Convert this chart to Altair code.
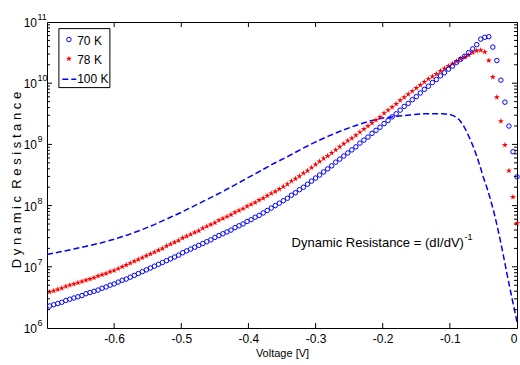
import altair as alt
import pandas as pd

# ---------------- data ----------------
voltage = [-0.696, -0.690, -0.684, -0.678, -0.672, -0.666, -0.660, -0.654, -0.648, -0.642,
           -0.636, -0.630, -0.624, -0.618, -0.612, -0.606, -0.600, -0.594, -0.588, -0.582,
           -0.576, -0.570, -0.564, -0.558, -0.552, -0.546, -0.540, -0.534, -0.528, -0.522,
           -0.516, -0.510, -0.504, -0.498, -0.492, -0.486, -0.480, -0.474, -0.468, -0.462,
           -0.456, -0.450, -0.444, -0.438, -0.432, -0.426, -0.420, -0.414, -0.408, -0.402,
           -0.396, -0.390, -0.384, -0.378, -0.372, -0.366, -0.360, -0.354, -0.348, -0.342,
           -0.336, -0.330, -0.324, -0.318, -0.312, -0.306, -0.300, -0.294, -0.288, -0.282,
           -0.276, -0.270, -0.264, -0.258, -0.252, -0.246, -0.240, -0.234, -0.228, -0.222,
           -0.216, -0.210, -0.204, -0.198, -0.192, -0.186, -0.180, -0.174, -0.168, -0.162,
           -0.156, -0.150, -0.144, -0.138, -0.132, -0.126, -0.120, -0.114, -0.108, -0.102,
           -0.096, -0.090, -0.084, -0.078, -0.072, -0.066, -0.060, -0.054, -0.048, -0.042,
           -0.036, -0.030, -0.024, -0.018, -0.012, -0.006, 0.000]

# log10 of dynamic resistance, 70 K (blue circles)
r70_log10 = [6.36, 6.38, 6.40, 6.42, 6.45, 6.47, 6.49, 6.51, 6.53, 6.56,
             6.58, 6.60, 6.62, 6.65, 6.67, 6.70, 6.72, 6.75, 6.78, 6.80,
             6.83, 6.86, 6.89, 6.92, 6.95, 6.98, 7.01, 7.04, 7.07, 7.10,
             7.13, 7.16, 7.19, 7.23, 7.26, 7.29, 7.32, 7.35, 7.38, 7.41,
             7.44, 7.48, 7.51, 7.54, 7.57, 7.60, 7.64, 7.67, 7.70, 7.74,
             7.77, 7.81, 7.84, 7.88, 7.92, 7.96, 8.00, 8.04, 8.08, 8.12,
             8.17, 8.21, 8.26, 8.30, 8.35, 8.40, 8.45, 8.50, 8.55, 8.60,
             8.65, 8.71, 8.76, 8.81, 8.86, 8.91, 8.96, 9.02, 9.07, 9.12,
             9.18, 9.23, 9.28, 9.34, 9.39, 9.45, 9.50, 9.56, 9.62, 9.67,
             9.73, 9.78, 9.84, 9.90, 9.95, 10.01, 10.06, 10.12, 10.17, 10.23,
             10.28, 10.34, 10.39, 10.44, 10.50, 10.56, 10.63, 10.72, 10.75, 10.76,
             10.59, 10.37, 10.05, 9.69, 9.30, 8.88, 8.47]

# log10 of dynamic resistance, 78 K (red stars)
r78_log10 = [6.59, 6.61, 6.63, 6.65, 6.68, 6.70, 6.72, 6.74, 6.76, 6.78,
             6.80, 6.82, 6.85, 6.87, 6.89, 6.92, 6.94, 6.97, 7.00, 7.03,
             7.06, 7.09, 7.12, 7.15, 7.18, 7.21, 7.24, 7.27, 7.30, 7.34,
             7.37, 7.40, 7.43, 7.47, 7.50, 7.53, 7.56, 7.59, 7.63, 7.66,
             7.69, 7.72, 7.76, 7.79, 7.82, 7.85, 7.89, 7.92, 7.95, 7.99,
             8.02, 8.05, 8.09, 8.12, 8.16, 8.20, 8.23, 8.27, 8.31, 8.35,
             8.40, 8.44, 8.48, 8.53, 8.57, 8.62, 8.67, 8.72, 8.77, 8.81,
             8.86, 8.91, 8.96, 9.01, 9.06, 9.10, 9.15, 9.20, 9.25, 9.30,
             9.35, 9.40, 9.45, 9.51, 9.56, 9.61, 9.66, 9.72, 9.77, 9.82,
             9.87, 9.92, 9.97, 10.02, 10.07, 10.11, 10.15, 10.20, 10.24, 10.28,
             10.32, 10.36, 10.40, 10.43, 10.46, 10.50, 10.53, 10.54, 10.51, 10.37,
             10.10, 9.77, 9.38, 8.99, 8.57, 8.14, 7.71]

# 100 K (blue dashed line)
voltage_100 = [-0.70, -0.68, -0.66, -0.64, -0.62, -0.60, -0.58, -0.56, -0.54, -0.52,
               -0.50, -0.48, -0.46, -0.44, -0.42, -0.40, -0.38, -0.36, -0.34, -0.32,
               -0.30, -0.28, -0.26, -0.24, -0.22, -0.20, -0.18, -0.16, -0.14, -0.12,
               -0.11, -0.10, -0.095, -0.09, -0.085, -0.08, -0.075, -0.07, -0.065, -0.06,
               -0.055, -0.05, -0.045, -0.04, -0.035, -0.03, -0.025, -0.02, -0.015, -0.01,
               -0.005, 0.0]
r100_log10 = [7.20, 7.245, 7.29, 7.34, 7.39, 7.45, 7.52, 7.60, 7.69, 7.79,
              7.89, 8.00, 8.11, 8.22, 8.34, 8.46, 8.58, 8.70, 8.81, 8.93,
              9.04, 9.14, 9.23, 9.31, 9.38, 9.43, 9.46, 9.48, 9.50, 9.50,
              9.50, 9.49, 9.47, 9.44, 9.39, 9.31, 9.21, 9.09, 8.96, 8.81,
              8.64, 8.46, 8.30, 8.12, 7.92, 7.69, 7.44, 7.17, 6.89, 6.62,
              6.36, 6.10]

x_tick_values = [-0.6, -0.5, -0.4, -0.3, -0.2, -0.1]
x_label_values = [-0.6, -0.5, -0.4, -0.3, -0.2, -0.1, 0.0]
decades = [6, 7, 8, 9, 10, 11]
minor_mult = [2, 3, 4, 5, 6, 7, 8, 9]
legend_labels = ["70 K", "78 K", "100 K"]
annotation_text = "Dynamic Resistance = (dI/dV)"
annotation_sup = "-1"
x_title = "Voltage [V]"
y_title = "Dynamic Resistance"

# ---------------- styling ----------------
W, H = 470, 306
BLUE = "#0000ff"
RED = "#ff0000"
FONT = "Liberation Sans"
STAR = ("M0,-1L0.2245,-0.309L0.951,-0.309L0.363,0.118L0.588,0.809L0,0.382"
        "L-0.588,0.809L-0.363,0.118L-0.951,-0.309L-0.2245,-0.309Z")

df70 = pd.DataFrame({"V": voltage, "R": [10 ** v for v in r70_log10]})
df78 = pd.DataFrame({"V": voltage, "R": [10 ** v for v in r78_log10]})
df100 = pd.DataFrame({"V": voltage_100, "R": [10 ** v for v in r100_log10]})
df_xt = pd.DataFrame({"V": x_tick_values})
df_major = pd.DataFrame({"R": [10.0 ** d for d in decades[1:-1]]})
df_minor = pd.DataFrame({"R": [m * 10.0 ** d for d in decades[:-1] for m in minor_mult]})
df_ylab = pd.DataFrame({"R": [10.0 ** d for d in decades],
                        "base": ["10"] * len(decades),
                        "exp": [str(d) for d in decades]})
one = pd.DataFrame({"a": [0]})

xscale = alt.Scale(domain=[-0.7, 0.0], nice=False, zero=False)
yscale = alt.Scale(type="log", domain=[1e6, 1e11], nice=False)

x_enc = alt.X(
    "V:Q", scale=xscale,
    axis=alt.Axis(values=x_label_values,
                  labelExpr="datum.value == 0 ? '0' : '-' + format(-datum.value, '.1f')",
                  ticks=False, domain=False, grid=False,
                  labelFont=FONT, labelFontSize=12, labelColor="black", labelPadding=5,
                  title=x_title, titleFont=FONT, titleFontSize=11,
                  titleFontWeight="normal", titleColor="black", titlePadding=3))
y_enc = alt.Y("R:Q", scale=yscale, axis=None)

line100 = alt.Chart(df100).mark_line(color=BLUE, strokeWidth=1.5, strokeDash=[6, 3], clip=True).encode(
    x=x_enc, y=y_enc)
stars78 = alt.Chart(df78).mark_point(shape=STAR, filled=True, color=RED, size=40, opacity=1).encode(
    x=x_enc, y=y_enc)
circ70 = alt.Chart(df70).mark_point(shape="circle", filled=False, color=BLUE, size=20,
                                    strokeWidth=1, opacity=1).encode(x=x_enc, y=y_enc)

tick_style = dict(color="black", thickness=1, opacity=1)
xt_bot = alt.Chart(df_xt).mark_tick(orient="vertical", size=5, **tick_style).encode(
    x=x_enc, y=alt.value(H - 2.5))
xt_top = alt.Chart(df_xt).mark_tick(orient="vertical", size=5, **tick_style).encode(
    x=x_enc, y=alt.value(2.5))
yt_l = alt.Chart(df_major).mark_tick(orient="horizontal", size=5, **tick_style).encode(
    y=y_enc, x=alt.value(2.5))
yt_r = alt.Chart(df_major).mark_tick(orient="horizontal", size=5, **tick_style).encode(
    y=y_enc, x=alt.value(W - 2.5))
ym_l = alt.Chart(df_minor).mark_tick(orient="horizontal", size=3, **tick_style).encode(
    y=y_enc, x=alt.value(1.5))
ym_r = alt.Chart(df_minor).mark_tick(orient="horizontal", size=3, **tick_style).encode(
    y=y_enc, x=alt.value(W - 1.5))

ylab_base = alt.Chart(df_ylab).mark_text(align="right", baseline="middle", font=FONT,
                                         fontSize=12, color="black", dy=1).encode(
    y=y_enc, x=alt.value(-10), text="base:N")
ylab_exp = alt.Chart(df_ylab).mark_text(align="left", baseline="middle", font=FONT,
                                        fontSize=9, color="black", dy=-5).encode(
    y=y_enc, x=alt.value(-9.5), text="exp:N")

NB = "\u00a0"
y_title_spaced = (NB * 2).join(NB.join(list(w)) for w in y_title.split(" "))
ytitle = alt.Chart(one).mark_text(angle=270, align="center", baseline="middle", font=FONT,
                                  fontSize=13, color="black").encode(
    x=alt.value(-30.4), y=alt.value(158), text=alt.value(y_title_spaced))

ann = alt.Chart(one).mark_text(align="left", baseline="middle", font=FONT, fontSize=13,
                               color="black").encode(
    x=alt.value(244.6), y=alt.value(221), text=alt.value(annotation_text))
ann_sup = alt.Chart(one).mark_text(align="left", baseline="middle", font=FONT, fontSize=9,
                                   color="black").encode(
    x=alt.value(417.5), y=alt.value(215), text=alt.value(annotation_sup))

# legend (drawn manually, MATLAB-style)
leg_box = alt.Chart(one).mark_rect(fill="white", stroke="black", strokeWidth=1).encode(
    x=alt.value(11.9), x2=alt.value(62.9), y=alt.value(6.6), y2=alt.value(65.6))
leg_c = alt.Chart(one).mark_point(shape="circle", filled=False, color=BLUE, size=20,
                                  strokeWidth=1, opacity=1).encode(
    x=alt.value(21.9), y=alt.value(17.5))
leg_s = alt.Chart(one).mark_point(shape=STAR, filled=True, color=RED, size=40, opacity=1).encode(
    x=alt.value(21.9), y=alt.value(36.8))
leg_l = alt.Chart(one).mark_rule(color=BLUE, strokeWidth=1.5, strokeDash=[6, 3]).encode(
    x=alt.value(15.3), x2=alt.value(29.3), y=alt.value(57.3))
leg_texts = [
    alt.Chart(one).mark_text(align="left", baseline="middle", font=FONT, fontSize=12,
                             color="black").encode(
        x=alt.value(30.2), y=alt.value(yy), text=alt.value(lbl))
    for lbl, yy in zip(legend_labels, [18.6, 38.0, 56.8])
]

chart = alt.layer(
    line100, stars78, circ70,
    xt_bot, xt_top, yt_l, yt_r, ym_l, ym_r,
    ylab_base, ylab_exp, ytitle, ann, ann_sup,
    leg_box, leg_c, leg_s, leg_l, *leg_texts
).properties(
    width=W, height=H,
    padding={"left": 47, "top": 22, "right": 3, "bottom": 37},
    autosize=alt.AutoSizeParams(type="none"),
    background="white",
).configure_view(stroke="black", strokeWidth=1)

chart.save("out.html", embed_options={"renderer": "svg", "actions": False})
